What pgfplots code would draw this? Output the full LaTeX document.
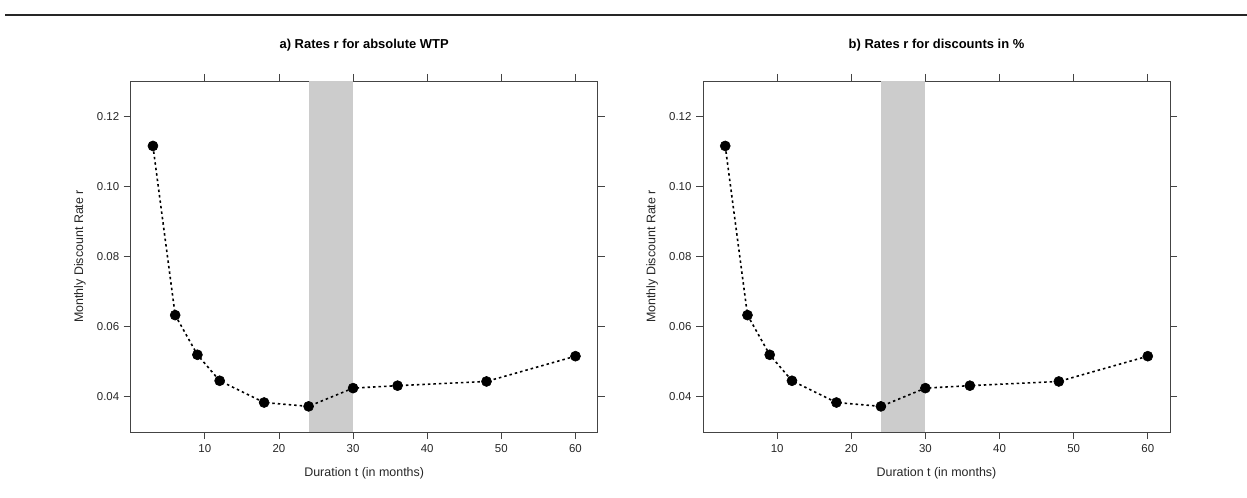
\documentclass[border=0pt]{standalone}
\usepackage{pgfplots}
\pgfplotsset{compat=1.18}
\usepackage{pgfplotstable}
\usepackage{fontspec}
\setmainfont{Liberation Sans}
\definecolor{bandgray}{HTML}{CCCCCC}
\definecolor{axgray}{HTML}{444444}
\pgfplotstableread{
t r
3 0.1115
6 0.0633
9 0.0520
12 0.0446
18 0.0384
24 0.0373
30 0.0425
36 0.0432
48 0.0444
60 0.0516
}\ratesA
\pgfplotstableread{
t r
3 0.1115
6 0.0633
9 0.0520
12 0.0446
18 0.0384
24 0.0373
30 0.0425
36 0.0432
48 0.0444
60 0.0516
}\ratesB
\pgfplotsset{
  latt/.style={
    width=467bp, height=351bp, scale only axis,
    xmin=0, xmax=63, ymin=0.03, ymax=0.13,
    xtick={10,20,30,40,50,60},
    ytick={0.04,0.06,0.08,0.10,0.12},
    tick align=outside, tick pos=both,
    major tick length=7bp,
    axis line style={axgray, line width=0.8bp},
    every tick/.style={axgray, line width=0.8bp},
    /pgf/number format/assume math mode=true,
    yticklabel style={/pgf/number format/fixed, /pgf/number format/fixed zerofill, /pgf/number format/precision=2},
    ticklabel style={font=\fontsize{11.5}{13}\selectfont, text=black!85},
    xticklabel style={yshift=-2bp},
    yticklabel style={xshift=-1bp},
    xlabel={Duration t (in months)},
    ylabel={Monthly Discount Rate r},
    every axis x label/.style={at={(axis description cs:0.5,-0.117)}, anchor=center, font=\fontsize{12.5}{14}\selectfont, text=black!85},
    every axis y label/.style={at={(axis description cs:-0.109,0.5)}, anchor=center, rotate=90, font=\fontsize{12.5}{14}\selectfont, text=black!85},
    every axis title/.style={at={(axis description cs:0.5,1.1026)}, anchor=center, font=\bfseries\fontsize{13}{15}\selectfont},
    clip=true,
  },
  ptline/.style={black, line width=1.6bp, dash pattern=on 2.5bp off 3bp, mark=*, mark size=5bp, mark options={solid, fill=black, draw=black, line width=0.6bp}},
}
\begin{document}
\begin{tikzpicture}
\useasboundingbox (0,0) rectangle (1247bp,498bp);
\draw[color=black!85, line width=2.5bp] (5bp,483bp) -- (1247bp,483bp);
\begin{axis}[latt, at={(130.7bp,66bp)}, anchor=south west, title={a) Rates r for absolute WTP}]
\addplot[fill=bandgray, draw=none, forget plot] coordinates {(24,0.03) (30,0.03) (30,0.13) (24,0.13)} -- cycle;
\addplot[ptline] table[x=t, y=r] {\ratesA};
\end{axis}
\begin{axis}[latt, at={(703bp,66bp)}, anchor=south west, title={b) Rates r for discounts in \%}]
\addplot[fill=bandgray, draw=none, forget plot] coordinates {(24,0.03) (30,0.03) (30,0.13) (24,0.13)} -- cycle;
\addplot[ptline] table[x=t, y=r] {\ratesB};
\end{axis}
\end{tikzpicture}
\end{document}
